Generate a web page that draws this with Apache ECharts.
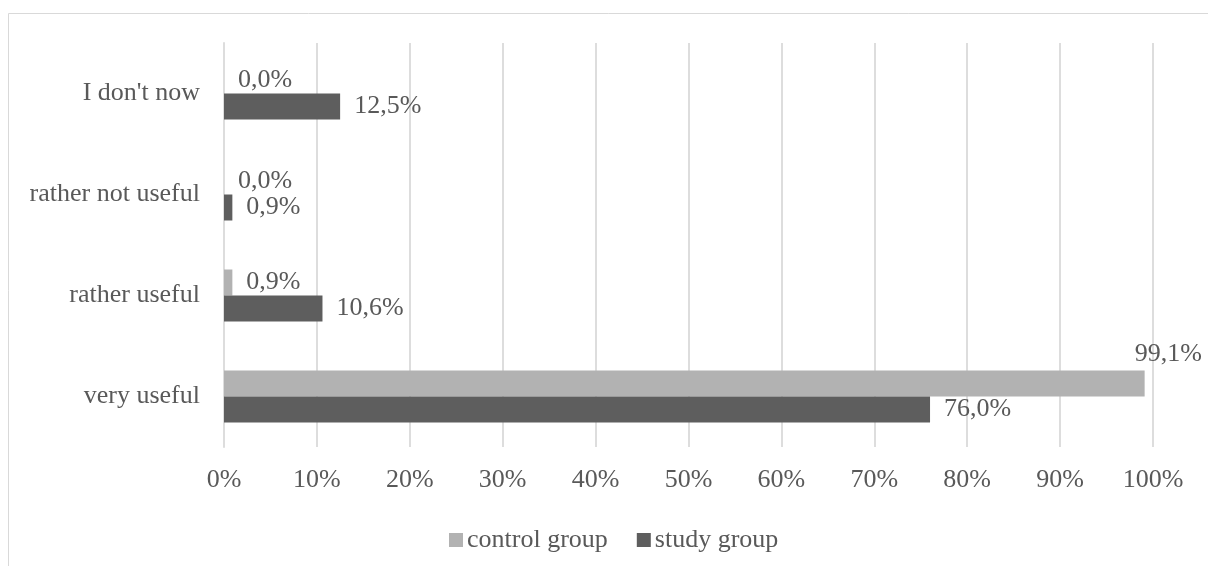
<!DOCTYPE html>
<html>
<head>
<meta charset="utf-8">
<style>
  html, body { margin: 0; padding: 0; background: #ffffff; }
  #chart { width: 1208px; height: 566px; }
</style>
<script src="https://cdn.jsdelivr.net/npm/echarts@6/dist/echarts.min.js"></script>
</head>
<body>
<div id="chart"></div>
<script>
// Answer categories, bottom to top
const categories = ['very useful', 'rather useful', 'rather not useful', "I don't now"];
// Share of respondents, percent
const controlGroup = [99.1, 0.9, 0.0, 0.0];
const studyGroup = [76.0, 10.6, 0.9, 12.5];
const xTicks = [0, 10, 20, 30, 40, 50, 60, 70, 80, 90, 100];

const FONT = '"Liberation Serif", "Times New Roman", serif';
const FS = 26;
const TEXT = '#595959';
const GRID = '#dddddd';

const fmt = v => v.toFixed(1).replace('.', ',') + '%';

const chart = echarts.init(document.getElementById('chart'), null, { renderer: 'canvas' });

const labelBase = {
  show: true,
  position: 'right',
  distance: 14,
  color: TEXT,
  fontFamily: FONT,
  fontSize: FS,
  formatter: p => fmt(p.value)
};

// the longest bar's label sits above its end, like the spreadsheet original
const withLiftedLabel = values => values.map(v => {
  if (v > 95) {
    return { value: v, label: { offset: [-24, -29] } };
  }
  return v;
});

chart.setOption({
  backgroundColor: '#ffffff',
  animation: false,
  textStyle: { fontFamily: FONT },
  graphic: [{
    type: 'rect',
    shape: { x: 8.5, y: 13.5, width: 1400, height: 800 },
    style: { fill: 'none', stroke: '#d9d9d9', lineWidth: 1 },
    silent: true
  }],
  grid: { left: 224, right: 55, top: 43, bottom: 119, containLabel: false },
  legend: {
    data: ['control group', 'study group'],
    left: 444,
    top: 522,
    itemWidth: 14,
    itemHeight: 14,
    itemGap: 29,
    icon: 'rect',
    textStyle: { color: TEXT, fontFamily: FONT, fontSize: FS, padding: [0, 0, 0, -1] }
  },
  xAxis: {
    type: 'value',
    min: xTicks[0],
    max: xTicks[xTicks.length - 1],
    interval: 10,
    axisLine: { show: false },
    axisTick: { show: false },
    splitLine: { lineStyle: { color: GRID, width: 2 } },
    axisLabel: { color: TEXT, fontFamily: FONT, fontSize: FS, margin: 20, formatter: '{value}%' }
  },
  yAxis: {
    type: 'category',
    data: categories,
    axisTick: { show: false },
    axisLine: { lineStyle: { color: GRID, width: 2 } },
    axisLabel: { color: TEXT, fontFamily: FONT, fontSize: FS, margin: 24 }
  },
  series: [
    {
      name: 'control group',
      type: 'bar',
      data: withLiftedLabel(controlGroup),
      barWidth: 26,
      barGap: '0%',
      itemStyle: { color: '#b2b2b2' },
      label: labelBase
    },
    {
      name: 'study group',
      type: 'bar',
      data: studyGroup,
      barWidth: 26,
      barGap: '0%',
      itemStyle: { color: '#5e5e5e' },
      label: labelBase
    }
  ]
});
</script>
</body>
</html>
